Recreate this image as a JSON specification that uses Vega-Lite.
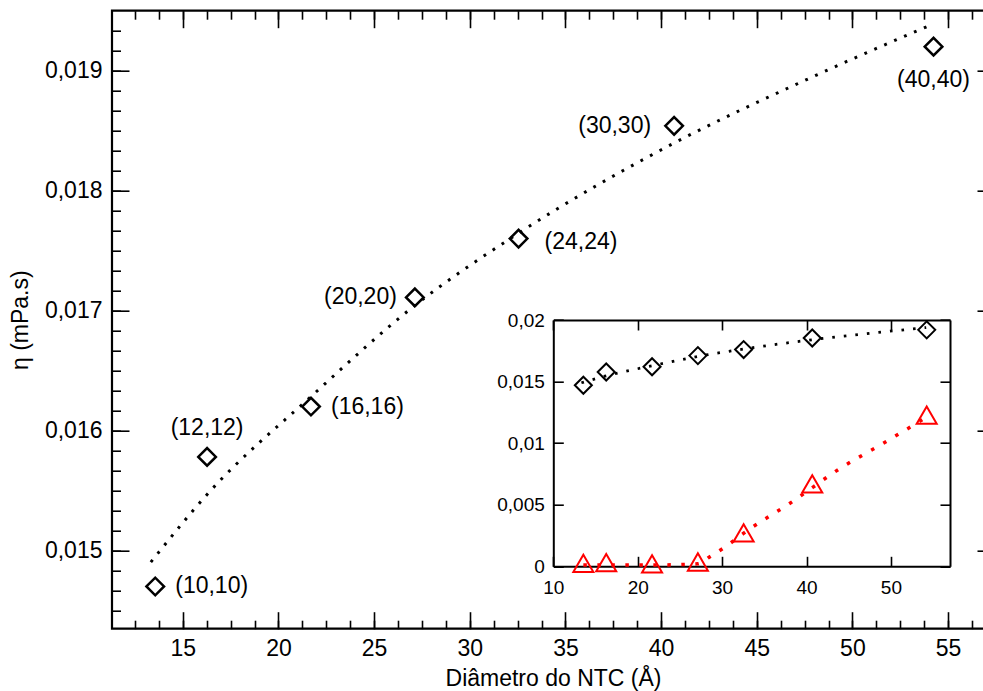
{
  "$schema": "https://vega.github.io/schema/vega-lite/v6.json",
  "width": 882,
  "height": 618,
  "autosize": {"type": "none"},
  "padding": {"left": 112, "top": 10.7, "right": 0, "bottom": 62.3},
  "background": "white",
  "config": {
    "view": {"stroke": "black", "strokeWidth": 2.2},
    "font": "Liberation Sans",
    "text": {"font": "Liberation Sans"},
    "axis": {
      "grid": false,
      "domain": false,
      "labelFont": "Liberation Sans",
      "titleFont": "Liberation Sans",
      "labelColor": "black",
      "titleColor": "black",
      "tickColor": "black",
      "tickWidth": 1.6,
      "titleFontWeight": "normal",
      "labelOverlap": false,
      "labelBound": false,
      "labelFlush": false
    }
  },
  "datasets": {
    "visc": [
      {"tubo": "(10,10)", "d": 13.56, "eta": 0.01470},
      {"tubo": "(12,12)", "d": 16.27, "eta": 0.01578},
      {"tubo": "(16,16)", "d": 21.70, "eta": 0.01620},
      {"tubo": "(20,20)", "d": 27.13, "eta": 0.01711},
      {"tubo": "(24,24)", "d": 32.55, "eta": 0.01760},
      {"tubo": "(30,30)", "d": 40.68, "eta": 0.01854},
      {"tubo": "(40,40)", "d": 54.24, "eta": 0.01920}
    ],
    "fit": [
      {"d": 13.33, "eta": 0.014903},
      {"d": 16.35, "eta": 0.015481},
      {"d": 21.67, "eta": 0.016279},
      {"d": 27.07, "eta": 0.017035},
      {"d": 32.55, "eta": 0.017645},
      {"d": 40.66, "eta": 0.018395},
      {"d": 47.76, "eta": 0.018937},
      {"d": 54.18, "eta": 0.019387}
    ],
    "tri": [
      {"d": 13.56, "v": 0.00024},
      {"d": 16.27, "v": 0.00030},
      {"d": 21.70, "v": 0.00020},
      {"d": 27.13, "v": 0.00035},
      {"d": 32.55, "v": 0.00272},
      {"d": 40.68, "v": 0.00670},
      {"d": 54.24, "v": 0.01227}
    ],
    "redfit": [
      {"d": 13.56, "v": 0.0001},
      {"d": 21.7, "v": 0.0001},
      {"d": 27.1, "v": 0.0002},
      {"d": 28.6, "v": 0.0008},
      {"d": 30.2, "v": 0.0015},
      {"d": 33.2, "v": 0.0030},
      {"d": 38.0, "v": 0.0051},
      {"d": 44.1, "v": 0.0080},
      {"d": 49.0, "v": 0.00995},
      {"d": 54.2, "v": 0.0121}
    ]
  },
  "resolve": {"scale": {"x": "independent", "y": "independent"}},
  "layer": [
    {
      "data": {"name": "fit"},
      "mark": {"type": "line", "color": "black", "strokeWidth": 3, "strokeDash": [2.8, 8], "interpolate": "monotone"},
      "encoding": {
        "x": {"field": "d", "type": "quantitative",
          "scale": {"domain": [11.3, 57.4], "nice": false, "zero": false},
          "axis": {"orient": "bottom", "values": [15, 20, 25, 30, 35, 40, 45, 50, 55], "tickSize": -17, "labelPadding": 26, "labelFontSize": 23,
            "title": "Diâmetro do NTC (Å)", "titleFontSize": 23, "titlePadding": 7}},
        "y": {"field": "eta", "type": "quantitative",
          "scale": {"domain": [0.014348, 0.0195], "nice": false, "zero": false},
          "axis": {"orient": "left", "values": [0.015, 0.016, 0.017, 0.018, 0.019], "tickSize": -17, "labelPadding": 27, "labelFontSize": 23,
            "labelExpr": "replace(format(datum.value, '.3f'), '.', ',')",
            "title": "η (mPa.s)", "titleFontSize": 23, "titlePadding": 12}}
      }
    },
    {
      "data": {"name": "visc"},
      "mark": {"type": "point", "shape": "diamond", "size": 310, "filled": false, "stroke": "black", "strokeWidth": 2.5, "opacity": 1},
      "encoding": {
        "x": {"field": "d", "type": "quantitative",
          "scale": {"domain": [11.3, 57.4], "nice": false, "zero": false},
          "axis": {"orient": "bottom", "values": [12.5, 13.75, 15, 16.25, 17.5, 18.75, 20, 21.25, 22.5, 23.75, 25, 26.25, 27.5, 28.75, 30, 31.25, 32.5, 33.75, 35, 36.25, 37.5, 38.75, 40, 41.25, 42.5, 43.75, 45, 46.25, 47.5, 48.75, 50, 51.25, 52.5, 53.75, 55, 56.25],
            "tickSize": -8.5, "labels": false, "title": null}},
        "y": {"field": "eta", "type": "quantitative",
          "scale": {"domain": [0.014348, 0.0195], "nice": false, "zero": false},
          "axis": {"orient": "left", "values": [0.0145, 0.0146667, 0.0148333, 0.015, 0.0151667, 0.0153333, 0.0155, 0.0156667, 0.0158333, 0.016, 0.0161667, 0.0163333, 0.0165, 0.0166667, 0.0168333, 0.017, 0.0171667, 0.0173333, 0.0175, 0.0176667, 0.0178333, 0.018, 0.0181667, 0.0183333, 0.0185, 0.0186667, 0.0188333, 0.019, 0.0191667, 0.0193333],
            "tickSize": -8.5, "labels": false, "title": null}}
      }
    },
    {
      "data": {"name": "visc"},
      "transform": [{"filter": "datum.tubo == '(10,10)' || datum.tubo == '(16,16)'"}],
      "mark": {"type": "text", "align": "left", "baseline": "middle", "dx": 20, "fontSize": 23, "color": "black"},
      "encoding": {
        "x": {"field": "d", "type": "quantitative",
          "scale": {"domain": [11.3, 57.4], "nice": false, "zero": false},
          "axis": {"orient": "top", "values": [15, 20, 25, 30, 35, 40, 45, 50, 55], "tickSize": -17, "labels": false, "title": null}},
        "y": {"field": "eta", "type": "quantitative",
          "scale": {"domain": [0.014348, 0.0195], "nice": false, "zero": false},
          "axis": {"orient": "right", "values": [0.015, 0.016, 0.017, 0.018, 0.019], "tickSize": -17, "labels": false, "title": null}},
        "text": {"field": "tubo"}
      }
    },
    {
      "data": {"name": "visc"},
      "transform": [{"filter": "datum.tubo == '(24,24)'"}],
      "mark": {"type": "text", "align": "left", "baseline": "middle", "dx": 26, "dy": 3, "fontSize": 23, "color": "black"},
      "encoding": {
        "x": {"field": "d", "type": "quantitative",
          "scale": {"domain": [11.3, 57.4], "nice": false, "zero": false},
          "axis": {"orient": "top", "values": [12.5, 13.75, 15, 16.25, 17.5, 18.75, 20, 21.25, 22.5, 23.75, 25, 26.25, 27.5, 28.75, 30, 31.25, 32.5, 33.75, 35, 36.25, 37.5, 38.75, 40, 41.25, 42.5, 43.75, 45, 46.25, 47.5, 48.75, 50, 51.25, 52.5, 53.75, 55, 56.25],
            "tickSize": -8.5, "labels": false, "title": null}},
        "y": {"field": "eta", "type": "quantitative",
          "scale": {"domain": [0.014348, 0.0195], "nice": false, "zero": false},
          "axis": {"orient": "right", "values": [0.0145, 0.0146667, 0.0148333, 0.015, 0.0151667, 0.0153333, 0.0155, 0.0156667, 0.0158333, 0.016, 0.0161667, 0.0163333, 0.0165, 0.0166667, 0.0168333, 0.017, 0.0171667, 0.0173333, 0.0175, 0.0176667, 0.0178333, 0.018, 0.0181667, 0.0183333, 0.0185, 0.0186667, 0.0188333, 0.019, 0.0191667, 0.0193333],
            "tickSize": -8.5, "labels": false, "title": null}},
        "text": {"field": "tubo"}
      }
    },
    {
      "data": {"name": "visc"},
      "transform": [{"filter": "datum.tubo == '(20,20)'"}],
      "mark": {"type": "text", "align": "right", "baseline": "middle", "dx": -18, "fontSize": 23, "color": "black"},
      "encoding": {
        "x": {"field": "d", "type": "quantitative", "scale": {"domain": [11.3, 57.4], "nice": false, "zero": false}, "axis": null},
        "y": {"field": "eta", "type": "quantitative", "scale": {"domain": [0.014348, 0.0195], "nice": false, "zero": false}, "axis": null},
        "text": {"field": "tubo"}
      }
    },
    {
      "data": {"name": "visc"},
      "transform": [{"filter": "datum.tubo == '(30,30)'"}],
      "mark": {"type": "text", "align": "right", "baseline": "middle", "dx": -23, "fontSize": 23, "color": "black"},
      "encoding": {
        "x": {"field": "d", "type": "quantitative", "scale": {"domain": [11.3, 57.4], "nice": false, "zero": false}, "axis": null},
        "y": {"field": "eta", "type": "quantitative", "scale": {"domain": [0.014348, 0.0195], "nice": false, "zero": false}, "axis": null},
        "text": {"field": "tubo"}
      }
    },
    {
      "data": {"name": "visc"},
      "transform": [{"filter": "datum.tubo == '(12,12)'"}],
      "mark": {"type": "text", "align": "center", "baseline": "middle", "dy": -29, "fontSize": 23, "color": "black"},
      "encoding": {
        "x": {"field": "d", "type": "quantitative", "scale": {"domain": [11.3, 57.4], "nice": false, "zero": false}, "axis": null},
        "y": {"field": "eta", "type": "quantitative", "scale": {"domain": [0.014348, 0.0195], "nice": false, "zero": false}, "axis": null},
        "text": {"field": "tubo"}
      }
    },
    {
      "data": {"name": "visc"},
      "transform": [{"filter": "datum.tubo == '(40,40)'"}],
      "mark": {"type": "text", "align": "center", "baseline": "middle", "dy": 33, "fontSize": 23, "color": "black"},
      "encoding": {
        "x": {"field": "d", "type": "quantitative", "scale": {"domain": [11.3, 57.4], "nice": false, "zero": false}, "axis": null},
        "y": {"field": "eta", "type": "quantitative", "scale": {"domain": [0.014348, 0.0195], "nice": false, "zero": false}, "axis": null},
        "text": {"field": "tubo"}
      }
    },
    {
      "data": {"name": "fit"},
      "mark": {"type": "line", "color": "black", "strokeWidth": 2.8, "strokeDash": [2.6, 9], "interpolate": "monotone"},
      "encoding": {
        "x": {"field": "d", "type": "quantitative",
          "scale": {"domain": [10, 57], "range": [441.3, 838], "nice": false, "zero": false},
          "axis": {"orient": "bottom", "offset": -62.4, "values": [10, 20, 30, 40, 50], "tickSize": -10, "labelPadding": 22, "labelFontSize": 19,
            "domain": true, "domainColor": "black", "domainWidth": 2, "title": null}},
        "y": {"field": "eta", "type": "quantitative",
          "scale": {"domain": [0, 0.02], "range": [555.6, 309.3], "nice": false, "zero": false},
          "axis": {"orient": "left", "offset": -441.3, "values": [0, 0.005, 0.01, 0.015, 0.02], "tickSize": -10, "labelPadding": 19, "labelFontSize": 19,
            "labelExpr": "replace(datum.value + '', '.', ',')",
            "domain": true, "domainColor": "black", "domainWidth": 2, "title": null}}
      }
    },
    {
      "data": {"name": "visc"},
      "mark": {"type": "point", "shape": "diamond", "size": 290, "filled": false, "stroke": "black", "strokeWidth": 2, "opacity": 1},
      "encoding": {
        "x": {"field": "d", "type": "quantitative",
          "scale": {"domain": [10, 57], "range": [441.3, 838], "nice": false, "zero": false},
          "axis": {"orient": "top", "offset": -309.3, "values": [10, 20, 30, 40, 50], "tickSize": -10, "labels": false,
            "domain": true, "domainColor": "black", "domainWidth": 2, "title": null}},
        "y": {"field": "eta", "type": "quantitative",
          "scale": {"domain": [0, 0.02], "range": [555.6, 309.3], "nice": false, "zero": false},
          "axis": {"orient": "right", "offset": -44, "values": [0, 0.005, 0.01, 0.015, 0.02], "tickSize": -10, "labels": false,
            "domain": true, "domainColor": "black", "domainWidth": 2, "title": null}}
      }
    },
    {
      "data": {"name": "redfit"},
      "mark": {"type": "line", "color": "#ff0000", "strokeWidth": 3.5, "strokeDash": [3.5, 10.5], "interpolate": "monotone"},
      "encoding": {
        "x": {"field": "d", "type": "quantitative", "scale": {"domain": [10, 57], "range": [441.3, 838], "nice": false, "zero": false}, "axis": null},
        "y": {"field": "v", "type": "quantitative", "scale": {"domain": [0, 0.02], "range": [555.6, 309.3], "nice": false, "zero": false}, "axis": null}
      }
    },
    {
      "data": {"name": "tri"},
      "mark": {"type": "point", "shape": "triangle-up", "size": 400, "filled": false, "stroke": "#ff0000", "strokeWidth": 2, "opacity": 1},
      "encoding": {
        "x": {"field": "d", "type": "quantitative", "scale": {"domain": [10, 57], "range": [441.3, 838], "nice": false, "zero": false}, "axis": null},
        "y": {"field": "v", "type": "quantitative", "scale": {"domain": [0, 0.02], "range": [555.6, 309.3], "nice": false, "zero": false}, "axis": null}
      }
    }
  ]
}
